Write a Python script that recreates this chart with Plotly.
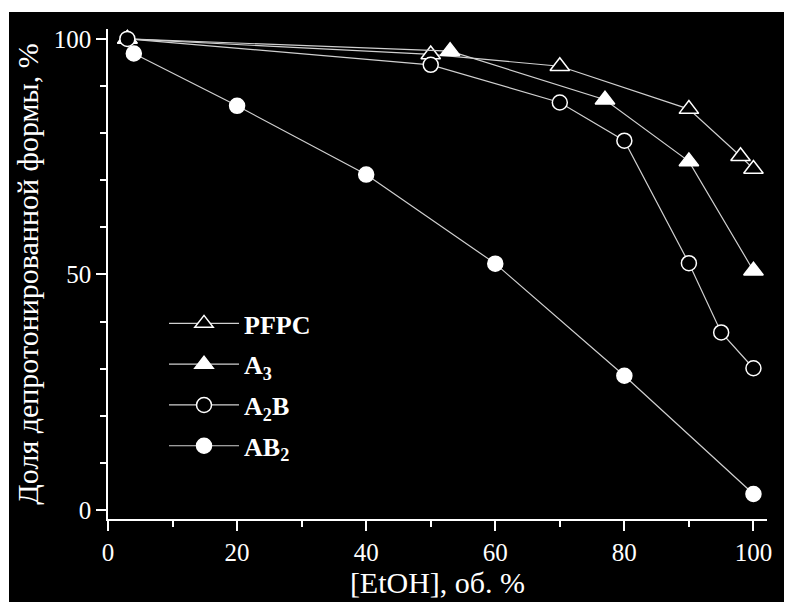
import plotly.graph_objects as go

# Data
pfpc_x = [3, 50, 70, 90, 98, 100]
pfpc_y = [100, 96.7, 94.2, 85.1, 75.1, 72.4]

a3_x = [3, 53, 77, 90, 100]
a3_y = [100, 97.4, 87.1, 74.0, 50.8]

a2b_x = [3, 50, 70, 80, 90, 95, 100]
a2b_y = [100, 94.5, 86.5, 78.4, 52.4, 37.7, 30.1]

ab2_x = [4, 20, 40, 60, 80, 100]
ab2_y = [96.9, 85.8, 71.2, 52.3, 28.5, 3.4]

names = ["PFPC", "A<sub>3</sub>", "A<sub>2</sub>B", "AB<sub>2</sub>"]

FONT = "Liberation Serif, Times New Roman, serif"
LINE_COL = "#d0d0d0"

fig = go.Figure()

series = [
    (pfpc_x, pfpc_y, "triangle-up", "black", 17),
    (a3_x, a3_y, "triangle-up", "white", 17),
    (a2b_x, a2b_y, "circle", "black", 15),
    (ab2_x, ab2_y, "circle", "white", 15),
]
for i, ((xs, ys, sym, fill, size), nm) in enumerate(zip(series, names)):
    fig.add_trace(go.Scatter(
        x=xs, y=ys, name=nm, mode="lines+markers", legendgroup=f"g{i}",
        line=dict(color=LINE_COL, width=1.2),
        marker=dict(symbol=sym, size=size, color=fill,
                    line=dict(color="white", width=1.5)),
        cliponaxis=False,
    ))

# page has an 8px body margin: figure occupies page x 8..792, y 8..602
OFF = 8
W, H = 792 - OFF, 602 - OFF
L, R, T, B = 108 - OFF, 25, 29 - OFF, 83
pw = W - L - R
ph = H - T - B

fig.add_shape(type="rect", xref="paper", yref="paper",
              x0=(1 - L) / pw, x1=(W - L) / pw,
              y0=-B / ph - 0.01, y1=1 + (T - 4) / ph,
              fillcolor="black", line=dict(width=0), layer="below")

axis_common = dict(
    showgrid=False, zeroline=False, showline=True, linecolor="white",
    linewidth=1.5, ticks="outside", ticklen=10, tickwidth=1.5,
    tickcolor="white", tickfont=dict(family=FONT, size=25, color="white"),
    mirror=False,
)

fig.update_xaxes(
    range=[0, 102.1], tickvals=[0, 20, 40, 60, 80, 100],
    minor=dict(dtick=10, tick0=0, ticks="outside", ticklen=6,
               tickwidth=1.5, tickcolor="white"),
    title=dict(text="[EtOH], об. %", font=dict(family=FONT, size=30, color="white"),
               standoff=0),
    **axis_common,
)
fig.update_yaxes(
    range=[-1.9, 102.1], tickvals=[0, 50, 100],
    minor=dict(dtick=10, tick0=0, ticks="outside", ticklen=6,
               tickwidth=1.5, tickcolor="white"),
    title=dict(text="Доля депротонированной формы, %",
               font=dict(family=FONT, size=30, color="white"), standoff=6),
    **axis_common,
)

fig.update_layout(
    width=W, height=H,
    margin=dict(l=L, r=R, t=T, b=B),
    paper_bgcolor="white", plot_bgcolor="black",
    showlegend=True,
    legend=dict(x=0.085, y=0.447, xanchor="left", yanchor="top",
                bgcolor="rgba(0,0,0,0)", borderwidth=0,
                font=dict(family=FONT, size=26, color="white", weight="bold"),
                itemwidth=70, tracegroupgap=4),
)

fig.write_html("out.html")
